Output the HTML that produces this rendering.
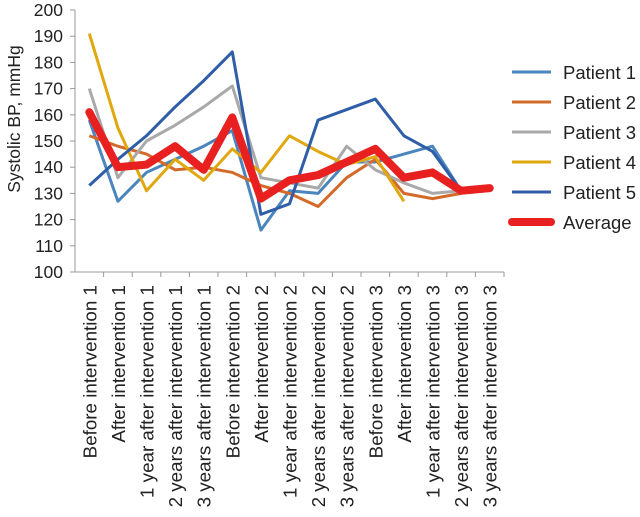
<!DOCTYPE html>
<html><head><meta charset="utf-8"><style>
body{margin:0;background:#fff;}
svg text{font-family:"Liberation Sans",Arial,sans-serif;fill:#222;}
</style></head><body>
<svg id="chart" width="640" height="512" xmlns="http://www.w3.org/2000/svg">
<g id="grid"></g>
<g id="series"></g>
<g id="legend"></g>
</svg>
<script>
const categories=["Before intervention 1","After intervention 1","1 year after intervention 1","2 years after intervention 1","3 years after intervention 1","Before intervention 2","After intervention 2","1 year after intervention 2","2 years after intervention 2","3 years after intervention 2","Before intervention 3","After intervention 3","1 year after intervention 3","2 years after intervention 3","3 years after intervention 3"];
const yTicks=[100,110,120,130,140,150,160,170,180,190,200];
const patient1=[158,127,138,143,148,154,116,131,130,142,142,145,148,131,null];
const patient2=[152,148,145,139,140,138,133,130,125,136,143,130,128,130,null];
const patient3=[170,136,150,156,163,171,136,134,132,148,139,134,130,131,null];
const patient4=[191,155,131,143,135,147,138,152,146,141,144,127,null,null,null];
const patient5=[133,143,152,163,173,184,122,126,158,162,166,152,146,131,null];
const average=[161,140,141,148,139,159,128,135,137,142,147,136,138,131,132];
const seriesNames=["Patient 1","Patient 2","Patient 3","Patient 4","Patient 5","Average"];
const seriesData=[patient1,patient2,patient3,patient4,patient5,average];
const colors=["#4a86bd","#d46a2a","#a9a9a9","#e0a80e","#2f5da8","#e82020"];
const widths=[3,3,3,3,3,8];
const NS="http://www.w3.org/2000/svg";
const X0=75,STEP=28.6,YB=272,YT=10,VMIN=100,VMAX=200;
const xs=i=>X0+STEP*(i+0.5);
const ys=v=>YB-(v-VMIN)/(VMAX-VMIN)*(YB-YT);
function mk(tag,attrs,parent){const e=document.createElementNS(NS,tag);for(const k in attrs)e.setAttribute(k,attrs[k]);parent.appendChild(e);return e;}
const grid=document.getElementById('grid');
const ax=mk('path',{d:`M${X0},${YT}V${YB}H${X0+STEP*categories.length}`,stroke:'#999',fill:'none','stroke-width':1},grid);


yTicks.forEach(t=>{
  const y=ys(t);
  const tk=mk('line',{x1:X0-5,x2:X0,y1:y,y2:y,stroke:'#999'},grid);
  
  
  const tx=mk('text',{x:63,y:y+6,'text-anchor':'end','font-size':17.5},grid);
  tx.textContent=t;
  
  
});
categories.forEach((c,i)=>{
  const x=X0+STEP*(i+1);
  const tk=mk('line',{x1:x,x2:x,y1:YB,y2:YB+5,stroke:'#999'},grid);
  
  
  const tx=mk('text',{transform:`translate(${xs(i)+7},${YB+13}) rotate(-90)`,'text-anchor':'end','font-size':18.8},grid);
  tx.textContent=c;
  
  
});
const yt=mk('text',{transform:`translate(20,119) rotate(-90)`,'text-anchor':'middle','font-size':17.5},grid);
yt.textContent="Systolic BP, mmHg";


const sg=document.getElementById('series');
seriesData.forEach((d,s)=>{
  let p='';
  d.forEach((v,i)=>{if(v!==null)p+=(p?'L':'M')+xs(i)+','+ys(v);});
  const pl=mk('path',{d:p,fill:'none',stroke:colors[s],'stroke-width':widths[s],'stroke-linejoin':'round','stroke-linecap':s==5?'round':'butt'},sg);
  
  
});
const lg=document.getElementById('legend');
seriesNames.forEach((n,s)=>{
  const y=72+30*s;
  const g=mk('g',{},lg);
  
  
  mk('line',{x1:512,x2:551,y1:y,y2:y,stroke:colors[s],'stroke-width':widths[s],'stroke-linecap':s==5?'round':'butt'},g);
  const t=mk('text',{x:563,y:y+7,'font-size':18.5},g);
  t.textContent=n;
});
</script>
</body></html>
